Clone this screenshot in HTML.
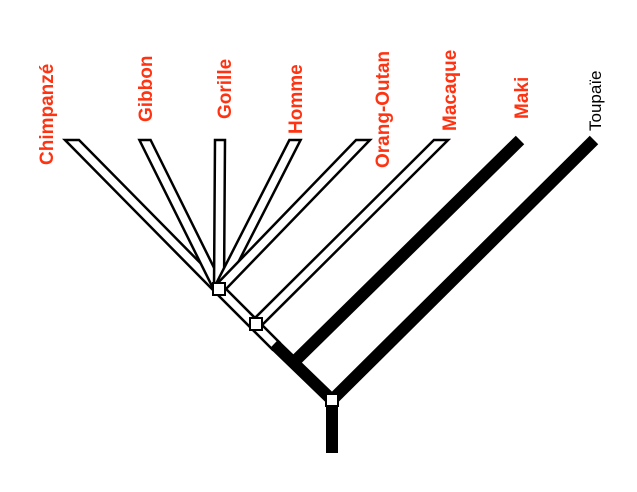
<!DOCTYPE html>
<html><head><style>body{margin:0;background:#fff}</style></head><body>
<svg id="s" width="637" height="487" xmlns="http://www.w3.org/2000/svg">
<g id="h"></g>
<g stroke="#000" stroke-width="12">
<line x1="274" y1="344" x2="332" y2="400"/>
<line x1="520" y1="140" x2="293" y2="363"/>
<line x1="594" y1="140" x2="332" y2="400"/>
<line x1="332" y1="400" x2="332" y2="453"/>
</g>
<g fill="#fff" stroke="#000" stroke-width="2">
<rect x="213" y="283" width="12" height="12"/>
<rect x="250" y="318" width="12" height="12"/>
<rect x="326" y="394" width="12" height="12"/>
</g>
<g font-family="Liberation Sans, Arial, sans-serif" font-size="19" font-weight="bold" fill="#ff3311">
<text transform="translate(53,165) rotate(-90)">Chimpanzé</text>
<text transform="translate(152,122) rotate(-90)">Gibbon</text>
<text transform="translate(231,119) rotate(-90)">Gorille</text>
<text transform="translate(302,134) rotate(-90)">Homme</text>
<text transform="translate(389,168) rotate(-90)">Orang-Outan</text>
<text transform="translate(456,131) rotate(-90)">Macaque</text>
<text transform="translate(528,119) rotate(-90)">Maki</text>
</g>
<text transform="translate(601,131) rotate(-90)" font-family="Liberation Sans, Arial, sans-serif" font-size="17" fill="#000">Toupaïe</text>
</svg>
<script>
var L=[[72,140,219,289,1],[145,140,219,289,1],[220,140,219,289,1],[295,140,219,289,1],[363,140,219,289,1],[441,140,256,324,1],[219,289,276,346,0]];
var g=document.getElementById('h'),o='';
L.forEach(function(a){var dx=a[2]-a[0],dy=a[3]-a[1],l=Math.hypot(dx,dy),w=5,nx=-dy/l*w,ny=dx/l*w,p;
if(a[4]){var hw=w*l/Math.abs(dy);p=[[a[0]-hw,a[1]],[a[0]+hw,a[1]],[a[2]-nx,a[3]-ny],[a[2]+nx,a[3]+ny]];
p=[[a[0]-hw,a[1]],[a[0]+hw,a[1]]];var q=[[a[2]+nx,a[3]+ny],[a[2]-nx,a[3]-ny]];q.sort(function(u,v){return v[0]-u[0]});p=p.concat(q);}
else p=[[a[0]+nx,a[1]+ny],[a[2]+nx,a[3]+ny],[a[2]-nx,a[3]-ny],[a[0]-nx,a[1]-ny]];
o+='<polygon points="'+p.map(function(q){return q.join(',')}).join(' ')+'" fill="#fff" stroke="#000" stroke-width="2.5"/>';});
g.innerHTML=o;
</script>
</body></html>
